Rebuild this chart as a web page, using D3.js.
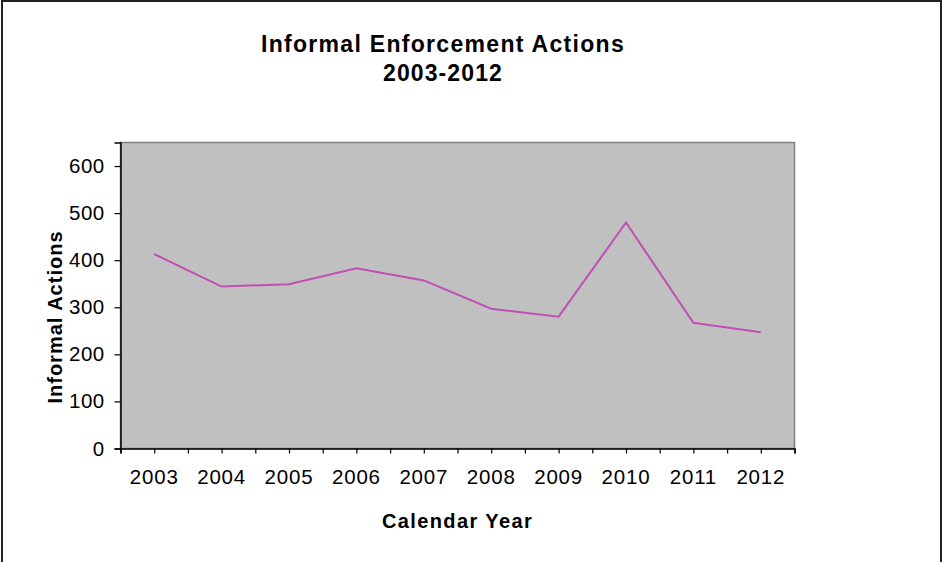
<!DOCTYPE html>
<html>
<head>
<meta charset="utf-8">
<script src="https://cdn.jsdelivr.net/npm/d3@7"></script>
<style>
  html, body { margin: 0; padding: 0; background: #fff; }
  svg { display: block; }
  text { font-family: "Liberation Sans", Arial, sans-serif; fill: #000; }
</style>
</head>
<body>
<svg id="chart" width="943" height="562"></svg>
<script>
// Calendar years and informal enforcement action counts
const years = ["2003", "2004", "2005", "2006", "2007", "2008", "2009", "2010", "2011", "2012"];
const actions = [413, 344, 349, 383, 357, 297, 280, 480, 267, 247];
const yTicks = [0, 100, 200, 300, 400, 500, 600];
const titleLines = ["Informal Enforcement Actions", "2003-2012"];
const xTitle = "Calendar Year";
const yTitle = "Informal Actions";

const svg = d3.select("#chart");
const W = 943, H = 562;
const plot = { left: 120.5, right: 794.5, top: 142.5, bottom: 448.5 };

// outer frame
svg.append("path")
  .attr("d", `M2,${H} V1 H941 V${H}`)
  .attr("fill", "none")
  .attr("stroke", "#222")
  .attr("stroke-width", 2);

const x = d3.scaleBand().domain(years).range([plot.left, plot.right]).padding(0);
const xEdge = d3.scaleLinear().domain([0, years.length]).range([plot.left, plot.right]);
const y = d3.scaleLinear().domain([0, 650]).range([plot.bottom, plot.top]);

// plot area
svg.append("rect")
  .attr("x", plot.left).attr("y", plot.top)
  .attr("width", plot.right - plot.left).attr("height", plot.bottom - plot.top)
  .attr("fill", "#c0c0c0")
  .attr("stroke", "#808080").attr("stroke-width", 1.5);

// y axis
const yAxis = svg.append("g")
  .attr("transform", `translate(${plot.left},0)`)
  .call(d3.axisLeft(y).tickValues(yTicks).tickSize(6).tickPadding(10));
yAxis.select(".domain").attr("stroke", "#000").attr("stroke-width", 1.5);
yAxis.selectAll(".tick line").attr("stroke", "#000").attr("stroke-width", 1.2);
yAxis.selectAll(".tick text")
  .style("font-family", "'Liberation Sans', Arial, sans-serif")
  .style("font-size", "20.5px").style("letter-spacing", "0.4px").attr("fill", "#000");

// x axis: tick marks at every half category, labels at category centres
const xTicksG = svg.append("g")
  .attr("transform", `translate(0,${plot.bottom})`)
  .call(d3.axisBottom(xEdge).tickValues(d3.range(0, years.length + 0.25, 0.5)).tickSize(5).tickFormat(""));
xTicksG.select(".domain").attr("stroke", "#000").attr("stroke-width", 1.5);
xTicksG.selectAll(".tick line").attr("stroke", "#000").attr("stroke-width", 1.2);

const xAxis = svg.append("g")
  .attr("transform", `translate(0,${plot.bottom})`)
  .call(d3.axisBottom(x).tickSize(0).tickPadding(21));
xAxis.select(".domain").remove();
xAxis.selectAll(".tick text")
  .style("font-family", "'Liberation Sans', Arial, sans-serif")
  .style("font-size", "20.5px").style("letter-spacing", "0.8px").attr("fill", "#000");

// series line
const line = d3.line()
  .x((d, i) => x(years[i]) + x.bandwidth() / 2)
  .y(d => y(d));
svg.append("path")
  .datum(actions)
  .attr("d", line)
  .attr("fill", "none")
  .attr("stroke", "#c04fb4")
  .attr("stroke-width", 2);

// titles
svg.append("text")
  .attr("x", 443).attr("y", 52)
  .attr("text-anchor", "middle")
  .style("font-size", "23px").style("font-weight", "bold").style("letter-spacing", "1.3px")
  .text(titleLines[0]);
svg.append("text")
  .attr("x", 443).attr("y", 81)
  .attr("text-anchor", "middle")
  .style("font-size", "23px").style("font-weight", "bold").style("letter-spacing", "1.1px")
  .text(titleLines[1]);

svg.append("text")
  .attr("x", (plot.left + plot.right) / 2).attr("y", 528)
  .attr("text-anchor", "middle")
  .style("font-size", "20px").style("font-weight", "bold").style("letter-spacing", "1.4px")
  .text(xTitle);

svg.append("text")
  .attr("transform", `translate(61.5,317) rotate(-90)`)
  .attr("text-anchor", "middle")
  .style("font-size", "20px").style("font-weight", "bold").style("letter-spacing", "1px")
  .text(yTitle);
</script>
</body>
</html>
